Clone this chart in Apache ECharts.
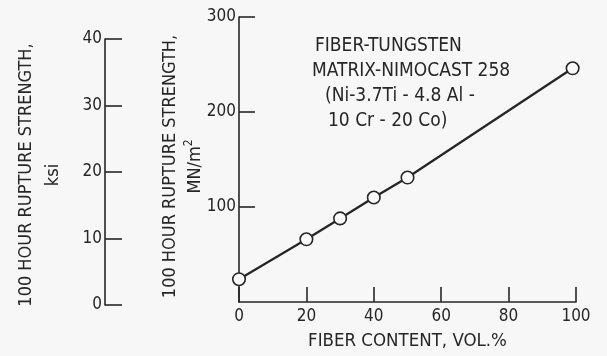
<!DOCTYPE html>
<html>
<head>
<meta charset="utf-8">
<script src="https://cdn.jsdelivr.net/npm/echarts@6/dist/echarts.min.js"></script>
<style>
  html, body { margin: 0; padding: 0; background: #f7f7f7; }
  #chart { width: 607px; height: 356px; }
</style>
</head>
<body>
<div id="chart"></div>
<script>
// Fiber content (vol. %) and 100-hour rupture strength (MN/m^2)
const fiberContent = [0, 20, 30, 40, 50, 99];
const ruptureStrength = [24, 66, 88, 110, 131, 246];

// Tick settings for the three axes
const xTicks = { min: 0, max: 100, interval: 20 };
const mnTicks = { min: 0, max: 300, interval: 100 };
const ksiTicks = { min: 0, max: 40, interval: 10 };

const noteLines = [
  'FIBER-TUNGSTEN',
  'MATRIX-NIMOCAST 258',
  '(Ni-3.7Ti - 4.8 Al -',
  '10 Cr - 20 Co)'
];

const FONT = '"Liberation Sans Narrow", "DejaVu Sans Condensed", "Liberation Sans", sans-serif';
const INK = '#262626';

const chart = echarts.init(document.getElementById('chart'), null, { renderer: 'canvas' });

const axisLineStyle = { lineStyle: { color: INK, width: 1.6 } };
const labelStyle = { color: INK, fontFamily: FONT, fontSize: 17 };

chart.setOption({
  backgroundColor: '#f7f7f7',
  animation: false,
  grid: [
    { left: 239, right: 31, top: 17, bottom: 51 },
    { left: 105, width: 20, top: 39, bottom: 51 }
  ],
  xAxis: [
    {
      gridIndex: 0, type: 'value',
      min: xTicks.min, max: xTicks.max, interval: xTicks.interval,
      axisLine: axisLineStyle,
      axisTick: { inside: true, length: 15, lineStyle: { color: INK, width: 1.6 } },
      axisLabel: Object.assign({ margin: 6 }, labelStyle),
      splitLine: { show: false },
      name: 'FIBER CONTENT, VOL.%',
      nameLocation: 'middle',
      nameGap: 30,
      nameMoveOverlap: false,
      nameTextStyle: { color: INK, fontFamily: FONT, fontSize: 18.5 }
    },
    { gridIndex: 1, type: 'value', min: 0, max: 1, show: false }
  ],
  yAxis: [
    {
      gridIndex: 0, type: 'value',
      min: mnTicks.min, max: mnTicks.max, interval: mnTicks.interval,
      axisLine: { show: true, lineStyle: { color: INK, width: 1.6 } },
      axisTick: { show: true, inside: true, length: 16, lineStyle: { color: INK, width: 1.6 } },
      axisLabel: Object.assign({ margin: 3, showMinLabel: false }, labelStyle),
      splitLine: { show: false },
      name: '100 HOUR RUPTURE STRENGTH,\nMN/m{sup|2}',
      nameLocation: 'middle',
      nameRotate: 90,
      nameGap: 31,
      nameMoveOverlap: false,
      nameTextStyle: {
        color: INK, fontFamily: FONT, fontSize: 18, lineHeight: 25,
        padding: [0, 14, 0, 0],
        rich: { sup: { fontFamily: FONT, fontSize: 12, verticalAlign: 'top', color: INK, padding: [0, 0, 8, 0] } }
      }
    },
    {
      gridIndex: 1, type: 'value',
      min: ksiTicks.min, max: ksiTicks.max, interval: ksiTicks.interval,
      axisLine: { show: true, lineStyle: { color: INK, width: 1.6 } },
      axisTick: { show: true, inside: true, length: 17, lineStyle: { color: INK, width: 1.6 } },
      axisLabel: Object.assign({ margin: 3 }, labelStyle),
      splitLine: { show: false },
      name: '100 HOUR RUPTURE STRENGTH,\nksi',
      nameLocation: 'middle',
      nameRotate: 90,
      nameGap: 38,
      nameMoveOverlap: false,
      nameTextStyle: { color: INK, fontFamily: FONT, fontSize: 18, lineHeight: 27, padding: [0, 6, 0, 0] }
    }
  ],
  series: [
    {
      type: 'line',
      xAxisIndex: 0, yAxisIndex: 0,
      data: fiberContent.map((x, i) => [x, ruptureStrength[i]]),
      symbol: 'circle',
      symbolSize: 12.5,
      lineStyle: { color: INK, width: 2.3 },
      itemStyle: { color: '#fafafa', borderColor: INK, borderWidth: 1.6 },
      z: 5
    }
  ],
  graphic: noteLines.map((t, i) => ({
    type: 'text',
    left: [315, 312, 325, 328][i],
    top: 37 + i * 25,
    style: { text: t, fill: INK, font: '19px ' + FONT }
  }))
});
</script>
</body>
</html>
